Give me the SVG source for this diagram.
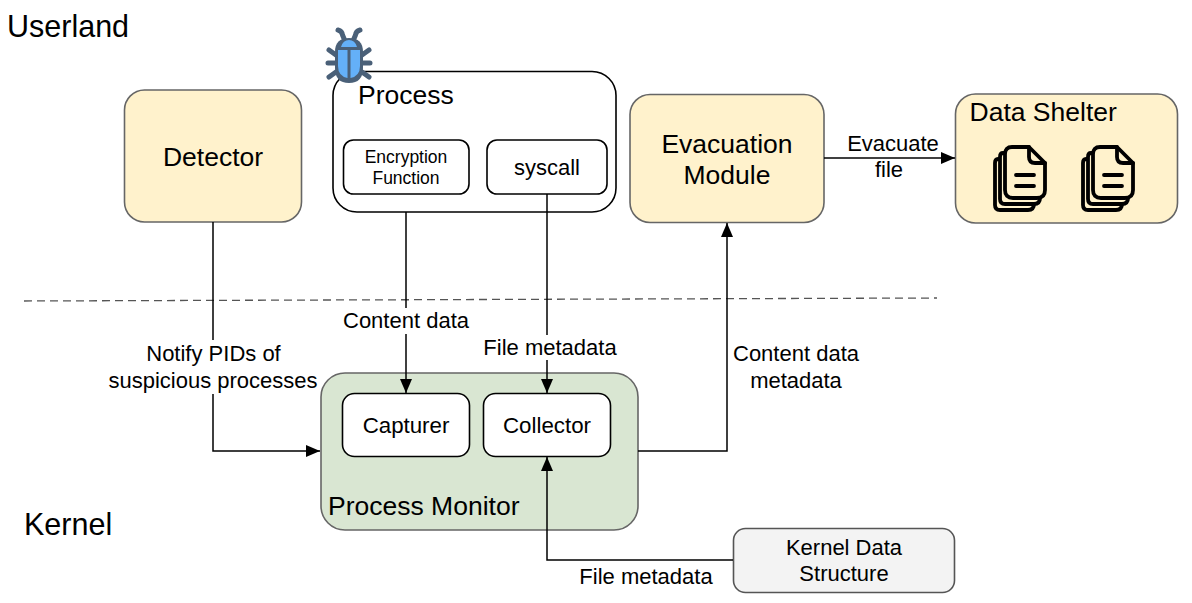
<svg xmlns="http://www.w3.org/2000/svg" width="1192" height="603" viewBox="0 0 1192 603">
<style>
text{font-family:"Liberation Sans",Arial,sans-serif;fill:#000;text-anchor:middle}
.s{text-anchor:start}
.y{fill:#fff2cc;stroke:#666;stroke-width:1.6}
.g{fill:#d9e6d2;stroke:#666;stroke-width:1.6}
.w{fill:#fff;stroke:#000;stroke-width:1.6}
.k{fill:#f3f3f3;stroke:#555;stroke-width:1.6}
.c{fill:none;stroke:#000;stroke-width:1.5}
.d{fill:none;stroke:#000;stroke-width:3.8;stroke-linejoin:round;stroke-linecap:round}
.b{fill:none;stroke:#4a6078;stroke-width:5;stroke-linecap:round;stroke-linejoin:round}
.l{fill:#fff;stroke:none}
</style>
<defs>
<marker id="a" markerUnits="userSpaceOnUse" markerWidth="15" markerHeight="12" refX="14" refY="6" orient="auto"><path d="M0 0L14 6L0 12Z" fill="#000"/></marker>
<symbol id="doc" viewBox="0 0 52 66" overflow="visible">
<path class="d" d="M5 13H4Q1 13 1 17V59Q1 64 6 64H34Q40 64 40 58"/>
<path class="d" d="M10 7H9Q6 7 6 11V53Q6 58 11 58H40Q46 58 46 52"/>
<path class="d" d="M18 1H35L51 17V44Q51 52 43 52H19Q11 52 11 44V8Q11 1 18 1Z"/>
<path class="d" d="M35 1V11Q35 17 41 17H51"/>
<path class="d" d="M22 29H40M22 40H40"/>
</symbol>
</defs>
<line x1="24" y1="301" x2="937" y2="298" stroke="#555" stroke-width="1.3" stroke-dasharray="8 5"/>
<text class="s" x="7" y="37" font-size="30.500">Userland</text>
<text class="s" x="24" y="535" font-size="30.500">Kernel</text>
<g id="detector"><rect class="y" x="124.500" y="90" width="177" height="132" rx="20"/><text x="213" y="166" font-size="26.500">Detector</text></g>
<g id="process"><rect class="w" x="333" y="71.500" width="283" height="140.500" rx="24"/><text class="s" x="358" y="104" font-size="26.500">Process</text>
<g id="bug">
<path class="b" d="M338 30Q342 31 342.500 35L345 41M360 30Q356 31 355.500 35L353 41M329 50L336 55M369 50L362 55M328 63H336M370 63H362M329 77L336 72M369 77L362 72"/>
<path d="M335 52Q335 38 349 38Q363 38 363 52V68Q363 83 349 83Q335 83 335 68Z" fill="#4a6078"/>
<path d="M338 50H347.500V78Q338 76 338 66ZM350.500 50H360V66Q360 76 350.500 78ZM341 47Q343 40 349 40Q355 40 357 47Z" fill="#64b0f8"/>
</g></g>
<g id="encryption"><rect class="w" x="343.500" y="140" width="125.500" height="54" rx="10"/><text x="406" y="163" font-size="17.500">Encryption</text><text x="406" y="184" font-size="17.500">Function</text></g>
<g id="syscall"><rect class="w" x="487" y="140" width="120" height="54" rx="10"/><text x="547" y="175" font-size="22">syscall</text></g>
<g id="evacuation"><rect class="y" x="630" y="94.500" width="194" height="128" rx="20"/><text x="727" y="153" font-size="26.500">Evacuation</text><text x="727" y="184" font-size="26.500">Module</text></g>
<g id="shelter"><rect class="y" x="955.500" y="94" width="222" height="129" rx="20"/><text class="s" x="969.500" y="121" font-size="26.500">Data Shelter</text>
<use href="#doc" x="994" y="146" width="52" height="66"/><use href="#doc" x="1082" y="146" width="52" height="66"/></g>
<g id="monitor"><rect class="g" x="321" y="373" width="317" height="157" rx="24"/><text class="s" x="328" y="515" font-size="26.500">Process Monitor</text></g>
<g id="capturer"><rect class="w" x="342.500" y="393.500" width="127" height="63" rx="12"/><text x="406" y="433" font-size="22.300">Capturer</text></g>
<g id="collector"><rect class="w" x="483.500" y="393.500" width="127" height="63" rx="12"/><text x="547" y="433" font-size="22.300">Collector</text></g>
<g id="kernel"><rect class="k" x="733.500" y="528.500" width="221" height="64" rx="12"/><text x="844" y="555" font-size="22">Kernel Data</text><text x="844" y="581" font-size="22">Structure</text></g>
<g id="connectors">
<path class="c" marker-end="url(#a)" d="M213 222V451H320"/>
<path class="c" marker-end="url(#a)" d="M406 212V393"/>
<path class="c" marker-end="url(#a)" d="M547 194V393"/>
<path class="c" marker-end="url(#a)" d="M638 451H727V223"/>
<path class="c" marker-end="url(#a)" d="M824 158H955"/>
<path class="c" marker-end="url(#a)" d="M733 560H547V457"/>
<rect class="l" x="340" y="308" width="132" height="26"/>
<text x="406" y="328" font-size="22">Content data</text>
<rect class="l" x="480" y="335" width="140" height="25"/>
<text x="550" y="355" font-size="22">File metadata</text>
<rect class="l" x="106" y="340" width="214" height="54"/>
<text x="213.500" y="361" font-size="22">Notify PIDs of</text>
<text x="213" y="388" font-size="22">suspicious processes</text>
<rect class="l" x="730" y="342" width="132" height="52"/>
<text x="796" y="361" font-size="22">Content data</text>
<text x="796" y="388" font-size="22">metadata</text>
<text x="893" y="151" font-size="22">Evacuate</text>
<text x="889" y="177" font-size="22">file</text>
<rect class="l" x="576" y="565" width="140" height="26"/>
<text x="646" y="584" font-size="22">File metadata</text>
</g>
</svg>
